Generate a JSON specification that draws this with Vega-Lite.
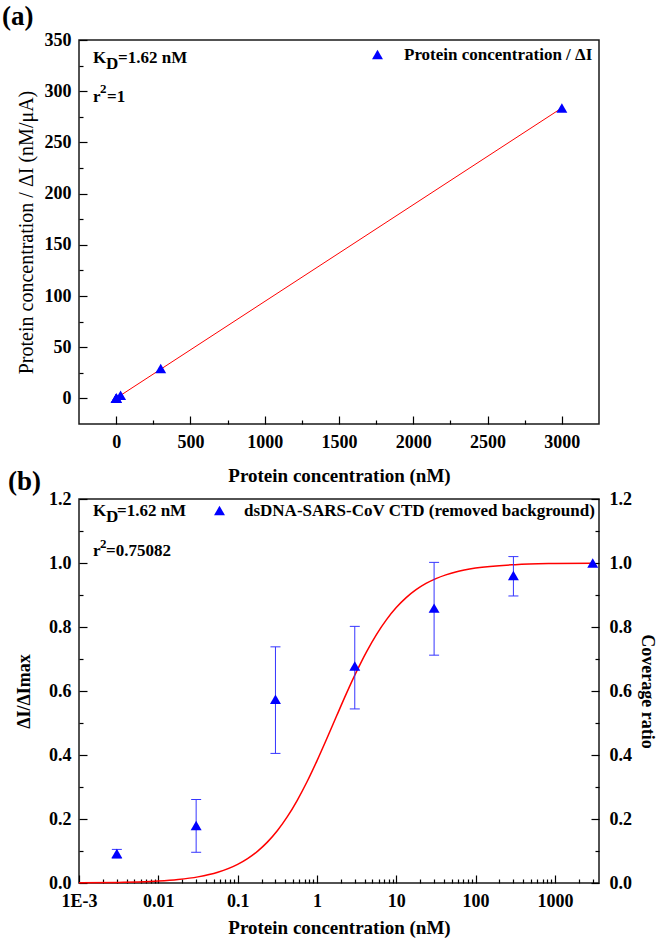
{
  "$schema": "https://vega.github.io/schema/vega-lite/v6.json",
  "background": "white",
  "padding": {"left": 1, "top": 2, "right": 0, "bottom": 0},
  "bounds": "flush",
  "spacing": 75,
  "resolve": {"scale": {"color": "independent", "shape": "independent"}, "legend": {"color": "independent", "shape": "independent"}},
  "config": {
    "font": "Liberation Serif",
    "view": {"stroke": "#1a1a1a", "strokeWidth": 1.5},
    "axis": {"labelFont": "Liberation Serif", "labelFontSize": 18, "labelFontWeight": "bold", "labelColor": "#000", "titleFont": "Liberation Serif", "titleFontSize": 19, "titleFontWeight": "bold", "titleColor": "#000", "tickColor": "#000", "tickWidth": 1.2, "domain": false, "grid": false, "labelFlush": false, "labelOverlap": false},
    "legend": {"title": null, "padding": 0, "labelFont": "Liberation Serif", "labelFontSize": 17, "labelFontWeight": "bold", "labelColor": "#000", "labelLimit": 600, "symbolSize": 120},
    "title": {"font": "Liberation Serif", "fontSize": 27, "fontWeight": "bold", "color": "#000", "anchor": "start", "frame": "group"}
  },
  "vconcat": [
    {
      "width": 520,
      "height": 384,
      "title": {"text": "(a)", "dx": -77, "offset": 0},
      "resolve": {"axis": {"x": "independent", "y": "independent"}},
      "layer": [
        {
          "data": {"values": [{"conc": 0, "ratio": 0.153}, {"conc": 3000, "ratio": 283.65}]},
          "mark": {"type": "line", "color": "#ff0000", "strokeWidth": 1},
          "encoding": {
            "x": {"field": "conc", "type": "quantitative", "scale": {"domain": [-250, 3250], "nice": false, "zero": false},
                  "axis": {"orient": "bottom", "values": [0, 500, 1000, 1500, 2000, 2500, 3000], "format": "d", "tickSize": -8, "labelPadding": 17, "title": "Protein concentration (nM)", "titlePadding": 15}},
            "y": {"field": "ratio", "type": "quantitative", "scale": {"domain": [-25, 350], "nice": false, "zero": false},
                  "axis": {"orient": "left", "values": [0, 50, 100, 150, 200, 250, 300, 350], "format": "d", "tickSize": -8, "labelPadding": 16, "title": "Protein concentration / ΔI (nM/μA)", "titleFontWeight": "normal", "titleFontSize": 20, "titlePadding": 8}}
          }
        },
        {
          "data": {"values": [
            {"conc": 0.003, "ratio": 0.153, "series": "Protein concentration / ΔI"},
            {"conc": 0.03, "ratio": 0.156, "series": "Protein concentration / ΔI"},
            {"conc": 0.3, "ratio": 0.18, "series": "Protein concentration / ΔI"},
            {"conc": 3, "ratio": 0.44, "series": "Protein concentration / ΔI"},
            {"conc": 30, "ratio": 2.99, "series": "Protein concentration / ΔI"},
            {"conc": 300, "ratio": 29.2, "series": "Protein concentration / ΔI"},
            {"conc": 3000, "ratio": 283.6, "series": "Protein concentration / ΔI"}
          ]},
          "mark": {"type": "point", "filled": true, "size": 120, "opacity": 1},
          "encoding": {
            "x": {"field": "conc", "type": "quantitative", "scale": {"domain": [-250, 3250], "nice": false, "zero": false},
                  "axis": {"orient": "bottom", "values": [250, 750, 1250, 1750, 2250, 2750], "tickSize": -4, "labels": false, "title": null}},
            "y": {"field": "ratio", "type": "quantitative", "scale": {"domain": [-25, 350], "nice": false, "zero": false},
                  "axis": {"orient": "left", "values": [25, 75, 125, 175, 225, 275, 325], "tickSize": -4, "labels": false, "title": null}},
            "color": {"field": "series", "type": "nominal", "scale": {"range": ["#0000ff"]}, "legend": {"orient": "top-right", "offset": 6, "labelOffset": 18}},
            "shape": {"field": "series", "type": "nominal", "scale": {"range": ["triangle-up"]}}
          }
        },
        {
          "data": {"values": [
            {"conc": -155, "ratio": 327.8, "lead": "K", "sub": "D", "sup": "", "restK": "=1.62 nM", "restR": ""},
            {"conc": -155, "ratio": 289.4, "lead": "r", "sub": "", "sup": "2", "restK": "", "restR": "=1"}
          ]},
          "encoding": {
            "x": {"field": "conc", "type": "quantitative", "scale": {"domain": [-250, 3250], "nice": false, "zero": false}, "axis": null},
            "y": {"field": "ratio", "type": "quantitative", "scale": {"domain": [-25, 350], "nice": false, "zero": false}, "axis": null}
          },
          "layer": [
            {"mark": {"type": "text", "align": "left", "baseline": "alphabetic", "fontWeight": "bold", "fontSize": 17, "color": "#000"}, "encoding": {"text": {"field": "lead"}}},
            {"mark": {"type": "text", "align": "left", "baseline": "alphabetic", "fontWeight": "bold", "fontSize": 17, "color": "#000", "dx": 13, "dy": 6}, "encoding": {"text": {"field": "sub"}}},
            {"mark": {"type": "text", "align": "left", "baseline": "alphabetic", "fontWeight": "bold", "fontSize": 13, "color": "#000", "dx": 7, "dy": -9}, "encoding": {"text": {"field": "sup"}}},
            {"mark": {"type": "text", "align": "left", "baseline": "alphabetic", "fontWeight": "bold", "fontSize": 17, "color": "#000", "dx": 25}, "encoding": {"text": {"field": "restK"}}},
            {"mark": {"type": "text", "align": "left", "baseline": "alphabetic", "fontWeight": "bold", "fontSize": 17, "color": "#000", "dx": 14}, "encoding": {"text": {"field": "restR"}}}
          ]
        }
      ]
    },
    {
      "width": 520,
      "height": 384,
      "title": {"text": "(b)", "dx": -71, "offset": -6},
      "resolve": {"axis": {"x": "independent", "y": "independent"}},
      "layer": [
        {
          "data": {"values": [
            {"conc": 0.001, "frac": 0.0006}, {"conc": 0.003162, "frac": 0.00195}, {"conc": 0.00562, "frac": 0.00346},
            {"conc": 0.01, "frac": 0.00613}, {"conc": 0.01778, "frac": 0.01086}, {"conc": 0.03162, "frac": 0.01915},
            {"conc": 0.05623, "frac": 0.03355}, {"conc": 0.1, "frac": 0.05814}, {"conc": 0.1334, "frac": 0.0761},
            {"conc": 0.1778, "frac": 0.0989}, {"conc": 0.2371, "frac": 0.1277}, {"conc": 0.3162, "frac": 0.1633},
            {"conc": 0.4217, "frac": 0.2065}, {"conc": 0.5623, "frac": 0.2577}, {"conc": 0.7499, "frac": 0.3164},
            {"conc": 1, "frac": 0.3817}, {"conc": 1.3335, "frac": 0.4515}, {"conc": 1.7783, "frac": 0.5233},
            {"conc": 2.3714, "frac": 0.5941}, {"conc": 3.1623, "frac": 0.6612}, {"conc": 4.217, "frac": 0.7225},
            {"conc": 5.6234, "frac": 0.7764}, {"conc": 7.4989, "frac": 0.8223}, {"conc": 10, "frac": 0.8606},
            {"conc": 13.335, "frac": 0.8917}, {"conc": 17.783, "frac": 0.9165}, {"conc": 23.714, "frac": 0.9361},
            {"conc": 31.623, "frac": 0.9513}, {"conc": 42.17, "frac": 0.963}, {"conc": 56.234, "frac": 0.972},
            {"conc": 100, "frac": 0.9841}, {"conc": 316.23, "frac": 0.9949}, {"conc": 1000, "frac": 0.9984},
            {"conc": 3000, "frac": 0.9995}
          ]},
          "mark": {"type": "line", "color": "#ff0000", "strokeWidth": 1.5, "interpolate": "monotone"},
          "encoding": {
            "x": {"field": "conc", "type": "quantitative", "scale": {"type": "log", "domain": [0.001, 3600], "nice": false},
                  "axis": {"orient": "bottom", "values": [0.001, 0.01, 0.1, 1, 10, 100, 1000], "labelExpr": "datum.value < 0.005 ? '1E-3' : format(datum.value, '~f')", "tickSize": -8, "labelPadding": 17, "title": "Protein concentration (nM)", "titlePadding": 8}},
            "y": {"field": "frac", "type": "quantitative", "scale": {"domain": [0, 1.2], "nice": false, "zero": false},
                  "axis": {"orient": "left", "values": [0, 0.2, 0.4, 0.6, 0.8, 1.0, 1.2], "format": ".1f", "tickSize": -8, "labelPadding": 16, "title": "ΔI/ΔImax", "titleFontSize": 18, "titlePadding": 15}}
          }
        },
        {
          "data": {"name": "pts"},
          "mark": {"type": "rule", "color": "#3535ff", "strokeWidth": 1},
          "encoding": {
            "x": {"field": "conc", "type": "quantitative", "scale": {"type": "log", "domain": [0.001, 3600], "nice": false},
                  "axis": {"orient": "bottom", "values": [0.002, 0.003, 0.004, 0.005, 0.006, 0.007, 0.008, 0.009, 0.02, 0.03, 0.04, 0.05, 0.06, 0.07, 0.08, 0.09, 0.2, 0.3, 0.4, 0.5, 0.6, 0.7, 0.8, 0.9, 2, 3, 4, 5, 6, 7, 8, 9, 20, 30, 40, 50, 60, 70, 80, 90, 200, 300, 400, 500, 600, 700, 800, 900, 2000, 3000], "tickSize": -4, "labels": false, "title": null}},
            "y": {"field": "lo", "type": "quantitative", "scale": {"domain": [0, 1.2], "nice": false, "zero": false},
                  "axis": {"orient": "left", "values": [0.1, 0.3, 0.5, 0.7, 0.9, 1.1], "tickSize": -4, "labels": false, "title": null}},
            "y2": {"field": "hi"}
          }
        },
        {
          "data": {"name": "pts"},
          "mark": {"type": "tick", "orient": "horizontal", "color": "#3535ff", "size": 10, "thickness": 1, "opacity": 1},
          "encoding": {
            "x": {"field": "conc", "type": "quantitative", "scale": {"type": "log", "domain": [0.001, 3600], "nice": false}, "axis": null},
            "y": {"field": "lo", "type": "quantitative", "scale": {"domain": [0, 1.2], "nice": false, "zero": false},
                  "axis": {"orient": "right", "values": [0, 0.2, 0.4, 0.6, 0.8, 1.0, 1.2], "format": ".1f", "tickSize": -8, "labelPadding": 18, "title": "Coverage ratio", "titleFontSize": 18, "titlePadding": 6}}
          }
        },
        {
          "data": {"name": "pts"},
          "mark": {"type": "tick", "orient": "horizontal", "color": "#3535ff", "size": 10, "thickness": 1, "opacity": 1},
          "encoding": {
            "x": {"field": "conc", "type": "quantitative", "scale": {"type": "log", "domain": [0.001, 3600], "nice": false}, "axis": null},
            "y": {"field": "hi", "type": "quantitative", "scale": {"domain": [0, 1.2], "nice": false, "zero": false},
                  "axis": {"orient": "right", "values": [0.1, 0.3, 0.5, 0.7, 0.9, 1.1], "tickSize": -4, "labels": false, "title": null}}
          }
        },
        {
          "data": {"name": "pts"},
          "mark": {"type": "point", "filled": true, "size": 120, "opacity": 1},
          "encoding": {
            "x": {"field": "conc", "type": "quantitative", "scale": {"type": "log", "domain": [0.001, 3600], "nice": false}, "axis": null},
            "y": {"field": "frac", "type": "quantitative", "scale": {"domain": [0, 1.2], "nice": false, "zero": false}, "axis": null},
            "color": {"field": "series", "type": "nominal", "scale": {"range": ["#0000ff"]}, "legend": {"orient": "top-right", "offset": 3, "labelOffset": 16}},
            "shape": {"field": "series", "type": "nominal", "scale": {"range": ["triangle-up"]}}
          }
        },
        {
          "data": {"values": [
            {"conc": 0.0015, "frac": 1.147, "lead": "K", "sub": "D", "sup": "", "restK": "=1.62 nM", "restR": ""},
            {"conc": 0.0015, "frac": 1.022, "lead": "r", "sub": "", "sup": "2", "restK": "", "restR": "=0.75082"}
          ]},
          "encoding": {
            "x": {"field": "conc", "type": "quantitative", "scale": {"type": "log", "domain": [0.001, 3600], "nice": false}, "axis": null},
            "y": {"field": "frac", "type": "quantitative", "scale": {"domain": [0, 1.2], "nice": false, "zero": false}, "axis": null}
          },
          "layer": [
            {"mark": {"type": "text", "align": "left", "baseline": "alphabetic", "fontWeight": "bold", "fontSize": 17, "color": "#000"}, "encoding": {"text": {"field": "lead"}}},
            {"mark": {"type": "text", "align": "left", "baseline": "alphabetic", "fontWeight": "bold", "fontSize": 17, "color": "#000", "dx": 13, "dy": 6}, "encoding": {"text": {"field": "sub"}}},
            {"mark": {"type": "text", "align": "left", "baseline": "alphabetic", "fontWeight": "bold", "fontSize": 13, "color": "#000", "dx": 7, "dy": -8}, "encoding": {"text": {"field": "sup"}}},
            {"mark": {"type": "text", "align": "left", "baseline": "alphabetic", "fontWeight": "bold", "fontSize": 17, "color": "#000", "dx": 24}, "encoding": {"text": {"field": "restK"}}},
            {"mark": {"type": "text", "align": "left", "baseline": "alphabetic", "fontWeight": "bold", "fontSize": 17, "color": "#000", "dx": 13}, "encoding": {"text": {"field": "restR"}}}
          ]
        }
      ]
    }
  ],
  "datasets": {
    "pts": [
      {"conc": 0.003, "frac": 0.092, "lo": 0.078, "hi": 0.105, "series": "dsDNA-SARS-CoV CTD (removed background)"},
      {"conc": 0.03, "frac": 0.18, "lo": 0.096, "hi": 0.261, "series": "dsDNA-SARS-CoV CTD (removed background)"},
      {"conc": 0.3, "frac": 0.574, "lo": 0.405, "hi": 0.738, "series": "dsDNA-SARS-CoV CTD (removed background)"},
      {"conc": 3, "frac": 0.678, "lo": 0.544, "hi": 0.802, "series": "dsDNA-SARS-CoV CTD (removed background)"},
      {"conc": 30, "frac": 0.859, "lo": 0.712, "hi": 1.002, "series": "dsDNA-SARS-CoV CTD (removed background)"},
      {"conc": 300, "frac": 0.961, "lo": 0.897, "hi": 1.02, "series": "dsDNA-SARS-CoV CTD (removed background)"},
      {"conc": 3000, "frac": 1.0, "lo": null, "hi": null, "series": "dsDNA-SARS-CoV CTD (removed background)"}
    ]
  }
}
